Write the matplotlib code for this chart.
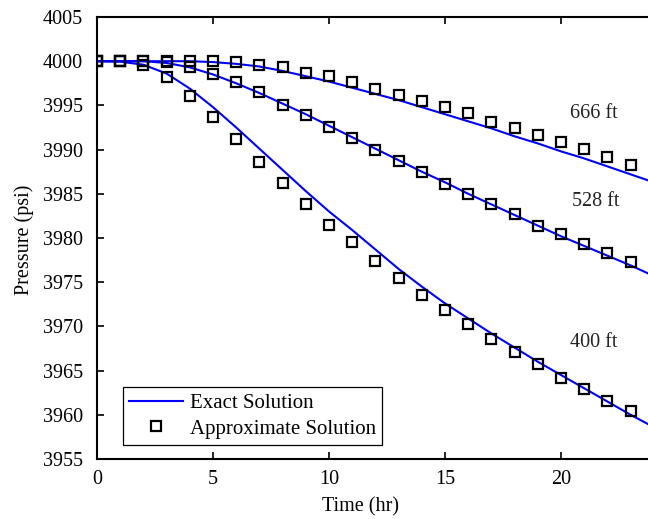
import matplotlib
matplotlib.use("Agg")
import matplotlib.pyplot as plt
from matplotlib.lines import Line2D

plt.rcParams['font.family'] = ['Liberation Serif', 'DejaVu Serif']

# Approximate solution (squares), hourly
t_approx = list(range(0, 24))
p666_approx = [4000.0, 4000.0, 4000.0, 4000.0, 4000.0, 4000.0, 3999.9, 3999.6, 3999.3, 3998.7,
               3998.3, 3997.6, 3996.9, 3996.2, 3995.5, 3994.8, 3994.1, 3993.1, 3992.4, 3991.7,
               3990.9, 3990.1, 3989.2, 3988.3]
p528_approx = [4000.0, 4000.0, 4000.0, 3999.9, 3999.4, 3998.6, 3997.6, 3996.5, 3995.1, 3993.9,
               3992.6, 3991.3, 3989.9, 3988.7, 3987.5, 3986.1, 3985.0, 3983.8, 3982.7, 3981.4,
               3980.5, 3979.3, 3978.3, 3977.3]
p400_approx = [4000.0, 4000.0, 3999.6, 3998.2, 3996.1, 3993.7, 3991.2, 3988.6, 3986.2, 3983.8,
               3981.5, 3979.5, 3977.4, 3975.5, 3973.5, 3971.8, 3970.3, 3968.6, 3967.1, 3965.7,
               3964.2, 3962.9, 3961.6, 3960.4]

# Exact solution (lines)
t_exact = list(range(0, 25))
p666_exact = [4000.0, 4000.0, 4000.0, 4000.0, 4000.0, 3999.9, 3999.7, 3999.4, 3998.9, 3998.3,
              3997.7, 3997.0, 3996.3, 3995.6, 3994.8, 3994.0, 3993.2, 3992.4, 3991.5, 3990.7,
              3989.8, 3989.0, 3988.1, 3987.2, 3986.3]
p528_exact = [4000.0, 4000.0, 4000.0, 3999.8, 3999.3, 3998.5, 3997.5, 3996.4, 3995.2, 3994.0,
              3992.7, 3991.4, 3990.1, 3988.8, 3987.5, 3986.3, 3985.0, 3983.8, 3982.6, 3981.4,
              3980.2, 3979.1, 3978.0, 3976.9, 3975.7]
p400_exact = [4000.0, 3999.95, 3999.6, 3998.6, 3996.9, 3994.8, 3992.5, 3990.1, 3987.7, 3985.3,
              3983.0, 3980.9, 3978.7, 3976.5, 3974.5, 3972.6, 3970.9, 3969.2, 3967.6, 3966.0,
              3964.5, 3963.0, 3961.5, 3960.0, 3958.6]

labels = ["666 ft", "528 ft", "400 ft"]
label_pos = [(21.4, 3994.1), (21.5, 3984.1), (21.4, 3968.2)]

xticks = [0, 5, 10, 15, 20]
yticks = list(range(3955, 4006, 5))

fig = plt.figure(figsize=(6.48, 5.19), dpi=100)
ax = fig.add_axes([97/648, 60/519, 580/648, 442/519])

blue = (0, 0, 1)
for pe in (p666_exact, p528_exact, p400_exact):
    ax.plot(t_exact, pe, color=blue, lw=1.5, zorder=2)
for pa in (p666_approx, p528_approx, p400_approx):
    ax.plot(t_approx, pa, linestyle='none', marker='s', markersize=7.5,
            markerfacecolor='none', markeredgecolor='black', markeredgewidth=1.6, zorder=3)

for lab, (x, y) in zip(labels, label_pos):
    ax.text(x, y, lab, fontsize=14.5, ha='center', va='center', color='#222222')

ax.set_xlim(0, 25)
ax.set_ylim(3955, 4005)
ax.set_xticks(xticks)
ax.set_yticks(yticks)
ax.tick_params(direction='in', length=5, width=1.2, labelsize=14.5, top=True, right=True)
ax.tick_params(axis='y', pad=10)
ax.tick_params(axis='x', pad=8)
for s in ax.spines.values():
    s.set_linewidth(1.5)

ax.set_xlabel("Time (hr)", fontsize=14.5)
ax.set_ylabel("Pressure (psi)", fontsize=14.5)
ax.xaxis.set_label_coords((361-97)/580, (459-497)/442)
ax.yaxis.set_label_coords((34-97)/580, (459-240)/442)

h1 = Line2D([], [], color=blue, lw=1.5)
h2 = Line2D([], [], linestyle='none', marker='s', markersize=7.5, markerfacecolor='none',
            markeredgecolor='black', markeredgewidth=1.6)
leg = ax.legend([h1, h2], ["Exact Solution", "Approximate Solution"], loc='lower left',
                bbox_to_anchor=(26/580, 14/442), borderaxespad=0, fontsize=15,
                handlelength=2.6, handletextpad=0.3, labelspacing=0.3, borderpad=0.3,
                fancybox=False, framealpha=1, edgecolor='black')
leg.get_frame().set_linewidth(0.9)

fig.savefig("out.png", dpi=100)
